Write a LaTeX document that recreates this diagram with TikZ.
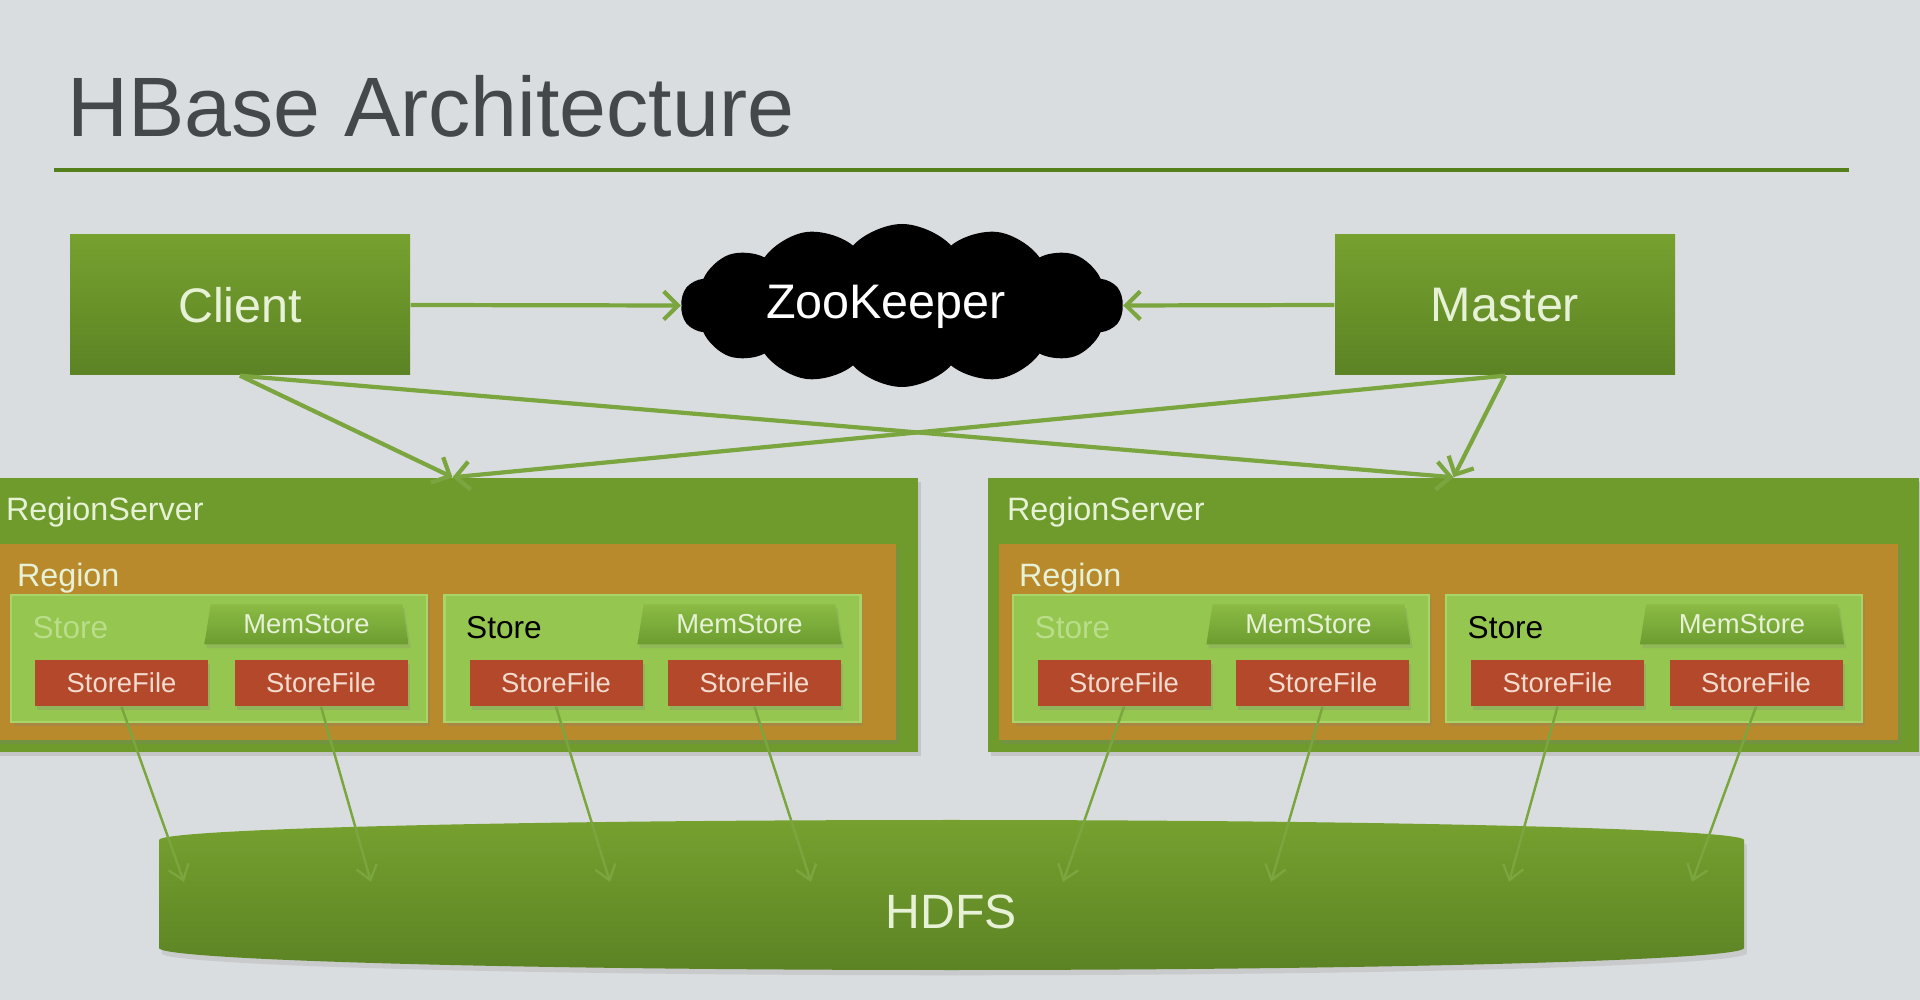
\documentclass[tikz,border=0pt]{standalone}
\usepackage{fontspec}
\setmainfont{Liberation Sans}
\usetikzlibrary{shapes.geometric,shapes.symbols,arrows.meta,shadows}

\definecolor{slidebg}{HTML}{DADDE0}
\definecolor{titlegray}{HTML}{45484B}
\definecolor{rulegreen}{HTML}{557F1B}
\definecolor{boxtop}{HTML}{76A12F}
\definecolor{boxbot}{HTML}{5C8324}
\definecolor{boxtext}{HTML}{E6F1D6}
\definecolor{arrowgreen}{HTML}{7BA53E}
\definecolor{servergreen}{HTML}{6E9B2C}
\definecolor{regionorange}{HTML}{B88A2C}
\definecolor{storegreen}{HTML}{95C64F}
\definecolor{storeedge}{HTML}{A9D46A}
\definecolor{storefaded}{HTML}{B9DD88}
\definecolor{memtop}{HTML}{8BBB44}
\definecolor{membot}{HTML}{6C9C2F}
\definecolor{filered}{HTML}{B3492A}
\definecolor{filetext}{HTML}{F3DCCF}

\begin{document}
\begin{tikzpicture}[y=-1cm,
    block/.style={rectangle, top color=boxtop, bottom color=boxbot, text=boxtext, minimum width=3.4cm, minimum height=1.4cm, inner sep=0pt, font=\fontsize{13.8pt}{16pt}\selectfont},
    rserver/.style={rectangle, fill=servergreen, minimum width=9.31cm, minimum height=2.74cm, inner sep=0pt, drop shadow={opacity=0.25, shadow xshift=0.8pt, shadow yshift=-1.2pt}},
    region/.style={rectangle, fill=regionorange, minimum width=8.99cm, minimum height=1.96cm, inner sep=0pt, drop shadow={opacity=0.25, shadow xshift=0.8pt, shadow yshift=-1.2pt}},
    store/.style={rectangle, fill=storegreen, draw=storeedge, line width=0.6pt, minimum width=4.16cm, minimum height=1.27cm, inner sep=0pt, drop shadow={opacity=0.25, shadow xshift=0.8pt, shadow yshift=-1.2pt}},
    memstore/.style={trapezium, trapezium left angle=78, trapezium right angle=78, trapezium stretches=true, top color=memtop, bottom color=membot, text=boxtext, minimum width=2.05cm, minimum height=0.40cm, inner sep=0pt, font=\fontsize{7.8pt}{9pt}\selectfont, drop shadow={opacity=0.2, shadow xshift=0.6pt, shadow yshift=-1pt}},
    storefile/.style={rectangle, fill=filered, text=filetext, minimum width=1.73cm, minimum height=0.46cm, inner sep=0pt, font=\fontsize{7.8pt}{9pt}\selectfont, drop shadow={opacity=0.25, shadow xshift=0.6pt, shadow yshift=-1pt}},
    lbl/.style={anchor=west, text=boxtext, inner sep=0pt, font=\fontsize{9.2pt}{11pt}\selectfont},
    storelbl/.style={anchor=west, inner sep=0pt, font=\fontsize{9pt}{11pt}\selectfont},
    link/.style={draw=arrowgreen, line width=1.2pt, -{Straight Barb[length=4pt,width=8pt]}},
    flush/.style={draw=arrowgreen, line width=0.7pt, -{Straight Barb[length=4pt,width=6pt]}}]

    % slide
    \useasboundingbox (0,0) rectangle (19.2,10);
    \fill[slidebg] (0,0) rectangle (19.2,10);
    \node[anchor=base west, inner sep=0pt, text=titlegray, font=\fontsize{24pt}{28pt}\selectfont] (title) at (0.67,1.37) {HBase Architecture};
    \draw[rulegreen, line width=1.4pt] (0.54,1.70) -- (18.49,1.70);

    % top row
    \node[block] (client) at (2.40,3.05) {Client};
    \node[block] (master) at (15.05,3.05) {Master};
    \node[cloud, cloud puffs=14, cloud puff arc=95, fill=black, minimum width=4.42cm, minimum height=1.63cm, inner sep=0pt] (zk) at (9.02,3.055) {};
    \node[text=white, inner sep=0pt, font=\fontsize{13.8pt}{16pt}\selectfont] (zklabel) at (8.86,3.07) {ZooKeeper};

    % region servers
    \node[rserver] (rs1) at (4.525,6.15) {};
    \node[rserver] (rs2) at (14.535,6.15) {};
    \node[lbl] (rs1label) at ([xshift=0.19cm,yshift=-0.35cm]rs1.north west) {RegionServer};
    \node[lbl] (rs2label) at ([xshift=0.19cm,yshift=-0.35cm]rs2.north west) {RegionServer};

    \node[region] (reg1) at (4.465,6.42) {};
    \node[region] (reg2) at (14.485,6.42) {};
    \node[lbl] (reg1label) at ([xshift=0.20cm,yshift=-0.35cm]reg1.north west) {Region};
    \node[lbl] (reg2label) at ([xshift=0.20cm,yshift=-0.35cm]reg2.north west) {Region};

    % stores
    \node[store] (s1) at (2.19,6.585) {};
    \node[store] (s2) at (6.525,6.585) {};
    \node[store] (s3) at (12.21,6.585) {};
    \node[store] (s4) at (16.54,6.585) {};
    \node[storelbl, text=storefaded] (s1label) at ([xshift=0.22cm,yshift=-0.34cm]s1.north west) {Store};
    \node[storelbl, text=black] (s2label) at ([xshift=0.22cm,yshift=-0.34cm]s2.north west) {Store};
    \node[storelbl, text=storefaded] (s3label) at ([xshift=0.22cm,yshift=-0.34cm]s3.north west) {Store};
    \node[storelbl, text=black] (s4label) at ([xshift=0.22cm,yshift=-0.34cm]s4.north west) {Store};

    \node[memstore] (m1) at (3.065,6.245) {MemStore};
    \node[memstore] (m2) at (7.395,6.245) {MemStore};
    \node[memstore] (m3) at (13.085,6.245) {MemStore};
    \node[memstore] (m4) at (17.42,6.245) {MemStore};

    \node[storefile] (sf1) at (1.215,6.83) {StoreFile};
    \node[storefile] (sf2) at (3.21,6.83) {StoreFile};
    \node[storefile] (sf3) at (5.56,6.83) {StoreFile};
    \node[storefile] (sf4) at (7.545,6.83) {StoreFile};
    \node[storefile] (sf5) at (11.24,6.83) {StoreFile};
    \node[storefile] (sf6) at (13.225,6.83) {StoreFile};
    \node[storefile] (sf7) at (15.575,6.83) {StoreFile};
    \node[storefile] (sf8) at (17.56,6.83) {StoreFile};

    % hdfs
    \path[top color=boxtop, bottom color=boxbot, drop shadow={opacity=0.2, shadow xshift=0.8pt, shadow yshift=-1.5pt}]
        (1.59,8.40) .. controls (1.59,8.29) and (5.138,8.20) .. (9.515,8.20)
        .. controls (13.892,8.20) and (17.44,8.29) .. (17.44,8.40)
        -- (17.44,9.48) .. controls (17.44,9.60) and (13.892,9.70) .. (9.515,9.70)
        .. controls (5.138,9.70) and (1.59,9.60) .. (1.59,9.48) -- cycle;
    \node[text=boxtext, font=\fontsize{13.7pt}{16pt}\selectfont] (hdfs) at (9.51,9.12) {HDFS};
    \coordinate (h1) at (1.84,8.82);
    \coordinate (h2) at (3.71,8.82);
    \coordinate (h3) at (6.10,8.82);
    \coordinate (h4) at (8.11,8.82);
    \coordinate (h5) at (10.63,8.82);
    \coordinate (h6) at (12.71,8.82);
    \coordinate (h7) at (15.09,8.82);
    \coordinate (h8) at (16.92,8.82);

    % connectors
    \draw[link] (client.east) -- (zk.west);
    \draw[link] (master.west) -- (zk.east);
    \draw[link] (client.south) -- (rs1.north);
    \draw[link] (client.south) -- (rs2.north);
    \draw[link] (master.south) -- (rs1.north);
    \draw[link] (master.south) -- (rs2.north);
    \draw[flush] (sf1.south) -- (h1);
    \draw[flush] (sf2.south) -- (h2);
    \draw[flush] (sf3.south) -- (h3);
    \draw[flush] (sf4.south) -- (h4);
    \draw[flush] (sf5.south) -- (h5);
    \draw[flush] (sf6.south) -- (h6);
    \draw[flush] (sf7.south) -- (h7);
    \draw[flush] (sf8.south) -- (h8);
\end{tikzpicture}
\end{document}
